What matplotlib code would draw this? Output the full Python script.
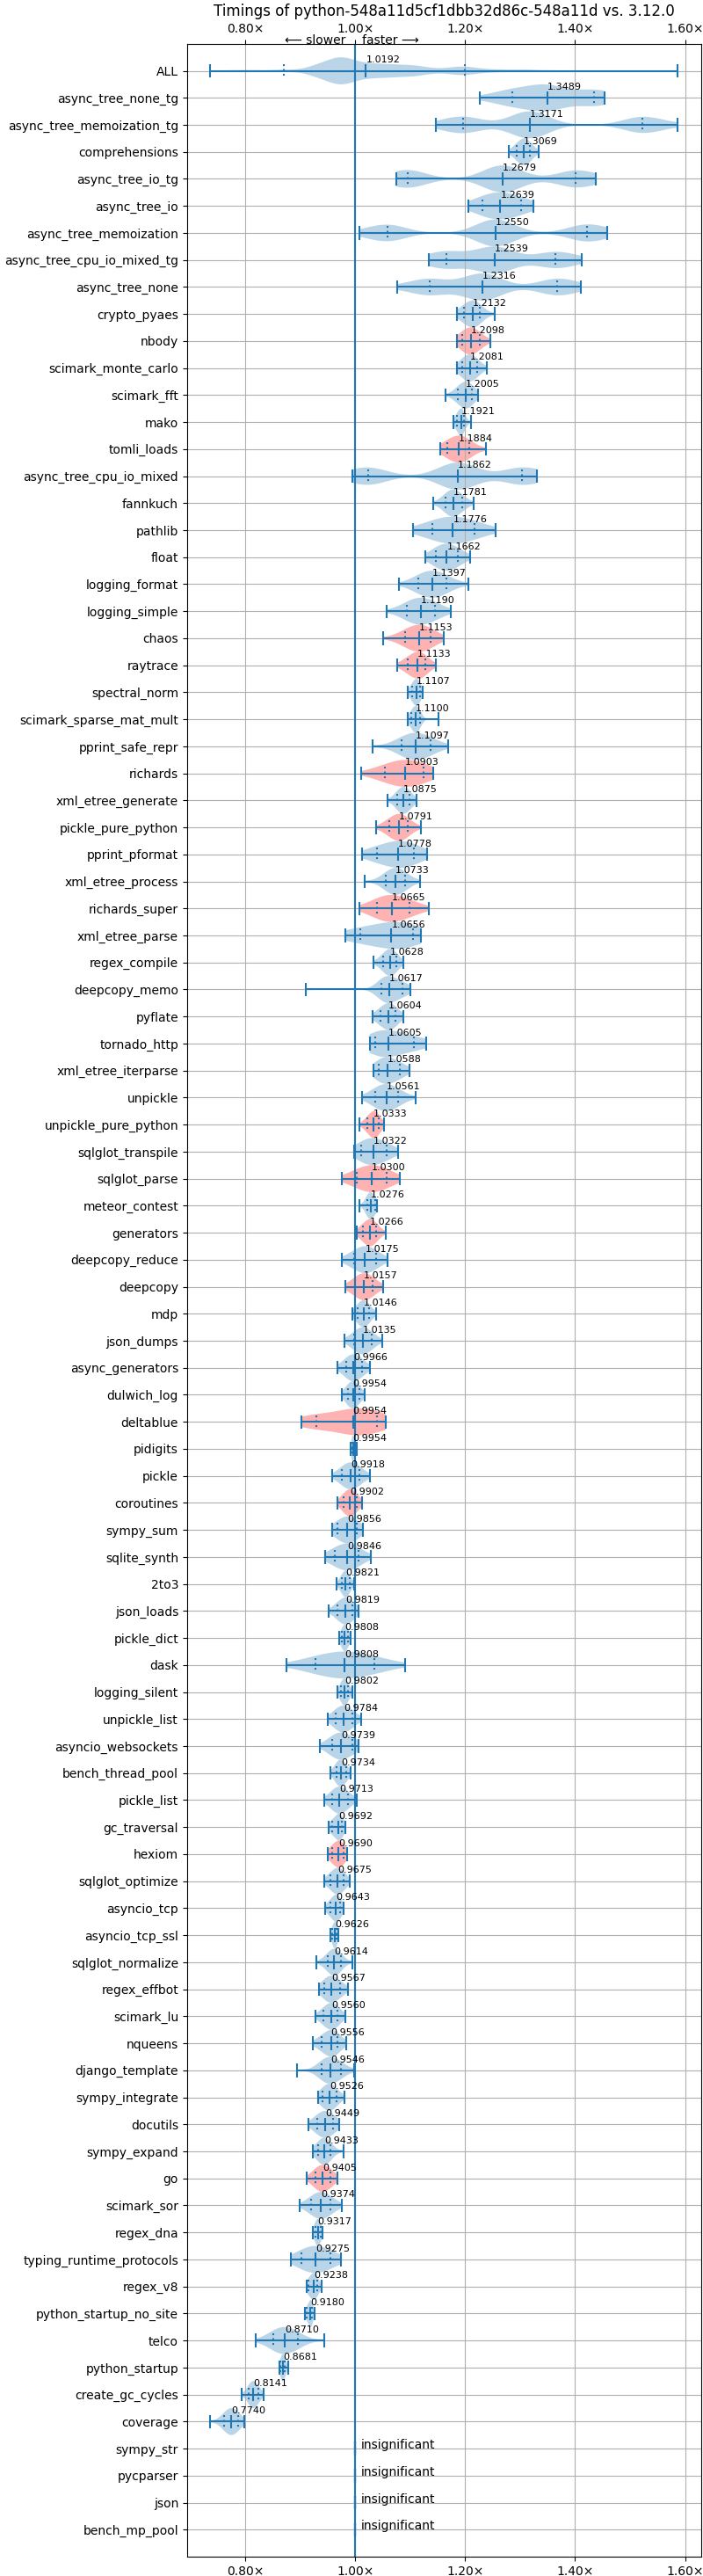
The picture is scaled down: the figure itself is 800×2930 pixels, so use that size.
import numpy as np
import matplotlib
matplotlib.use("Agg")
import matplotlib.pyplot as plt
import matplotlib.transforms as mtransforms
from matplotlib.ticker import FuncFormatter, MultipleLocator

title = "Timings of python-548a11d5cf1dbb32d86c-548a11d vs. 3.12.0"

# benchmark rows, top to bottom (after ALL)
names = [
    "async_tree_none_tg", "async_tree_memoization_tg", "comprehensions", "async_tree_io_tg",
    "async_tree_io", "async_tree_memoization", "async_tree_cpu_io_mixed_tg", "async_tree_none",
    "crypto_pyaes", "nbody", "scimark_monte_carlo", "scimark_fft", "mako", "tomli_loads",
    "async_tree_cpu_io_mixed", "fannkuch", "pathlib", "float", "logging_format", "logging_simple",
    "chaos", "raytrace", "spectral_norm", "scimark_sparse_mat_mult", "pprint_safe_repr", "richards",
    "xml_etree_generate", "pickle_pure_python", "pprint_pformat", "xml_etree_process",
    "richards_super", "xml_etree_parse", "regex_compile", "deepcopy_memo", "pyflate",
    "tornado_http", "xml_etree_iterparse", "unpickle", "unpickle_pure_python", "sqlglot_transpile",
    "sqlglot_parse", "meteor_contest", "generators", "deepcopy_reduce", "deepcopy", "mdp",
    "json_dumps", "async_generators", "dulwich_log", "deltablue", "pidigits", "pickle",
    "coroutines", "sympy_sum", "sqlite_synth", "2to3", "json_loads", "pickle_dict", "dask",
    "logging_silent", "unpickle_list", "asyncio_websockets", "bench_thread_pool", "pickle_list",
    "gc_traversal", "hexiom", "sqlglot_optimize", "asyncio_tcp", "asyncio_tcp_ssl",
    "sqlglot_normalize", "regex_effbot", "scimark_lu", "nqueens", "django_template",
    "sympy_integrate", "docutils", "sympy_expand", "go", "scimark_sor", "regex_dna",
    "typing_runtime_protocols", "regex_v8", "python_startup_no_site", "telco", "python_startup",
    "create_gc_cycles", "coverage",
]
medians = [
    1.3489, 1.3171, 1.3069, 1.2679, 1.2639, 1.2550, 1.2539, 1.2316, 1.2132, 1.2098, 1.2081,
    1.2005, 1.1921, 1.1884, 1.1862, 1.1781, 1.1776, 1.1662, 1.1397, 1.1190, 1.1153, 1.1133,
    1.1107, 1.1100, 1.1097, 1.0903, 1.0875, 1.0791, 1.0778, 1.0733, 1.0665, 1.0656, 1.0628,
    1.0617, 1.0604, 1.0605, 1.0588, 1.0561, 1.0333, 1.0322, 1.0300, 1.0276, 1.0266, 1.0175,
    1.0157, 1.0146, 1.0135, 0.9966, 0.9954, 0.9954, 0.9954, 0.9918, 0.9902, 0.9856, 0.9846,
    0.9821, 0.9819, 0.9808, 0.9808, 0.9802, 0.9784, 0.9739, 0.9734, 0.9713, 0.9692, 0.9690,
    0.9675, 0.9643, 0.9626, 0.9614, 0.9567, 0.9560, 0.9556, 0.9546, 0.9526, 0.9449, 0.9433,
    0.9405, 0.9374, 0.9317, 0.9275, 0.9238, 0.9180, 0.8710, 0.8681, 0.8141, 0.7740,
]
lows = [
    1.226, 1.146, 1.279, 1.074, 1.205, 1.007, 1.133, 1.076, 1.185, 1.185, 1.185, 1.164, 1.179,
    1.154, 0.994, 1.142, 1.105, 1.127, 1.079, 1.057, 1.050, 1.076, 1.096, 1.095, 1.031, 1.011,
    1.058, 1.038, 1.012, 1.017, 1.007, 0.981, 1.033, 0.909, 1.031, 1.026, 1.033, 1.012, 1.007,
    0.998, 0.975, 1.007, 1.002, 0.975, 0.981, 0.994, 0.980, 0.967, 0.975, 0.901, 0.991, 0.957,
    0.968, 0.957, 0.945, 0.965, 0.951, 0.971, 0.875, 0.968, 0.949, 0.936, 0.955, 0.944, 0.952,
    0.950, 0.944, 0.945, 0.955, 0.929, 0.934, 0.928, 0.923, 0.894, 0.932, 0.915, 0.922, 0.912,
    0.899, 0.923, 0.882, 0.911, 0.908, 0.818, 0.862, 0.793, 0.736,
]
q10s = [
    1.285, 1.196, 1.294, 1.096, 1.232, 1.059, 1.166, 1.135, 1.197, 1.195, 1.195, 1.186, 1.185,
    1.168, 1.024, 1.164, 1.140, 1.146, 1.115, 1.094, 1.090, 1.095, 1.103, 1.102, 1.084, 1.054,
    1.076, 1.061, 1.040, 1.055, 1.039, 1.009, 1.050, 1.048, 1.045, 1.036, 1.042, 1.036, 1.022,
    1.011, 1.002, 1.021, 1.014, 0.997, 0.999, 1.004, 0.998, 0.983, 0.986, 0.929, 0.994, 0.976,
    0.979, 0.968, 0.962, 0.975, 0.968, 0.975, 0.928, 0.974, 0.964, 0.957, 0.965, 0.958, 0.958,
    0.957, 0.955, 0.954, 0.958, 0.949, 0.944, 0.942, 0.939, 0.938, 0.940, 0.930, 0.932, 0.927,
    0.920, 0.927, 0.902, 0.915, 0.912, 0.850, 0.864, 0.806, 0.761,
]
q90s = [
    1.435, 1.523, 1.318, 1.401, 1.301, 1.421, 1.364, 1.367, 1.227, 1.226, 1.222, 1.212, 1.198,
    1.207, 1.304, 1.194, 1.217, 1.187, 1.166, 1.145, 1.137, 1.127, 1.117, 1.117, 1.137, 1.124,
    1.099, 1.095, 1.106, 1.091, 1.099, 1.105, 1.074, 1.086, 1.073, 1.106, 1.081, 1.078, 1.042,
    1.057, 1.057, 1.036, 1.038, 1.037, 1.032, 1.025, 1.029, 1.012, 1.007, 1.039, 0.999, 1.008,
    1.002, 1.002, 1.005, 0.989, 0.995, 0.986, 1.035, 0.987, 0.994, 0.994, 0.983, 0.986, 0.975,
    0.978, 0.978, 0.972, 0.966, 0.973, 0.972, 0.968, 0.968, 0.973, 0.965, 0.960, 0.955, 0.955,
    0.955, 0.937, 0.954, 0.930, 0.921, 0.895, 0.872, 0.823, 0.786,
]
highs = [
    1.453, 1.587, 1.333, 1.438, 1.324, 1.458, 1.412, 1.410, 1.253, 1.245, 1.240, 1.223, 1.211,
    1.237, 1.330, 1.216, 1.256, 1.209, 1.205, 1.174, 1.161, 1.147, 1.123, 1.152, 1.169, 1.142,
    1.112, 1.119, 1.130, 1.118, 1.133, 1.120, 1.087, 1.100, 1.087, 1.129, 1.098, 1.109, 1.052,
    1.078, 1.081, 1.040, 1.055, 1.058, 1.050, 1.037, 1.049, 1.026, 1.017, 1.055, 1.002, 1.027,
    1.012, 1.014, 1.028, 0.997, 1.006, 0.992, 1.090, 0.994, 1.010, 1.006, 0.992, 1.002, 0.981,
    0.985, 0.989, 0.979, 0.969, 0.995, 0.986, 0.981, 0.984, 0.998, 0.980, 0.971, 0.978, 0.968,
    0.976, 0.940, 0.974, 0.938, 0.925, 0.943, 0.877, 0.833, 0.798,
]
# benchmarks drawn with a red body
red_names = [
    "nbody", "tomli_loads", "chaos", "raytrace", "richards", "pickle_pure_python",
    "richards_super", "unpickle_pure_python", "sqlglot_parse", "generators", "deepcopy",
    "deltablue", "coroutines", "hexiom", "go",
]
insignificant = ["sympy_str", "pycparser", "json", "bench_mp_pool"]

# ALL row (combined distribution)
all_median = 1.0192
all_q10 = 0.869
all_q90 = 1.199

blue = "#1f77b4"
weights = [0.1, 0.7, 1.2, 0.7, 0.1]


def smooth(points, wts, h, lo, hi, n=100):
    xs = np.linspace(lo, hi, n)
    dens = np.zeros_like(xs)
    for p, w in zip(points, wts):
        dens += w * np.exp(-0.5 * ((xs - p) / h) ** 2)
    return xs, dens


stats = []
all_pts, all_w = [], []
for lo, a, m, b, hi in zip(lows, q10s, medians, q90s, highs):
    pts = [lo, a, m, b, hi]
    all_pts += pts
    all_w += weights
    xs, d = smooth(pts, weights, min(0.4 * (b - a), 0.035), lo, hi)
    stats.append(dict(coords=xs, vals=d, mean=m, median=m, min=lo, max=hi,
                      quantiles=np.array([a, b])))

xs, d = smooth(all_pts, all_w, 0.018, min(lows), max(highs), 300)
stats.insert(0, dict(coords=xs, vals=d, mean=all_median, median=all_median,
                     min=min(lows), max=max(highs), quantiles=np.array([all_q10, all_q90])))

for _ in insignificant:
    stats.append(dict(coords=np.array([1.0, 1.0]), vals=np.array([1.0, 1.0]), mean=1.0,
                      median=1.0, min=1.0, max=1.0, quantiles=np.array([1.0, 1.0])))

labels = ["ALL"] + names + insignificant
positions = np.arange(1, len(labels) + 1)

fig, ax = plt.subplots(figsize=(8, 29.3), dpi=100)
fig.subplots_adjust(left=0.266, right=0.9975, top=0.983, bottom=0.0075)

ax.axvline(1.0, color=blue, linewidth=1.5)
parts = ax.violin(stats, positions=positions, orientation="horizontal", widths=1.0,
                  showmeans=False, showextrema=True, showmedians=True)
for lab, body in zip(labels, parts["bodies"]):
    body.set_facecolor("red" if lab in red_names else blue)
    body.set_edgecolor("none")
    body.set_alpha(0.3)
for key in ["cmins", "cmaxes", "cbars", "cmedians", "cquantiles"]:
    parts[key].set_color(blue)
    parts[key].set_linewidth(1.5)
parts["cquantiles"].set_linestyle(":")

ax.text(all_median, 1 - 0.3, f"{all_median:.4f}", fontsize=8)
for pos, m in zip(positions[1:len(names) + 1], medians):
    ax.text(m, pos - 0.3, f"{m:.4f}", fontsize=8)
for pos in positions[len(names) + 1:]:
    ax.text(1.01, pos, "insignificant", fontsize=10)

ax.set_yticks(positions, labels)
ax.set_ylim(len(labels) + 1, 0)
ax.xaxis.set_major_locator(MultipleLocator(0.2))
ax.xaxis.set_major_formatter(FuncFormatter(lambda v, p: f"{v:.2f}×"))
ax.tick_params(axis="x", top=True, labeltop=True)
ax.grid(True)

trans = mtransforms.blended_transform_factory(ax.transData, ax.transAxes)
ax.text(0.982, 1.0, "⟵ slower", transform=trans, ha="right", va="baseline", fontsize=10)
ax.text(1.012, 1.0, "faster ⟶", transform=trans, ha="left", va="baseline", fontsize=10)

ax.set_title(title)

fig.savefig("out.png", dpi=100)
